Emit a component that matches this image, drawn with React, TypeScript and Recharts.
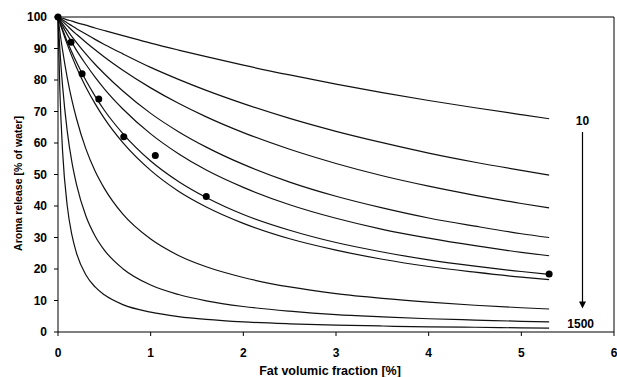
import {
  ComposedChart,
  Line,
  Scatter,
  XAxis,
  YAxis,
  ReferenceLine,
  ReferenceDot,
} from "recharts";

// fat volumic fraction [%] where the curves were read
const fatFraction = [0, 0.02, 0.05, 0.1, 0.15, 0.2, 0.3, 0.4, 0.5, 0.7, 1, 1.3, 1.6, 2, 2.5, 3, 3.5, 4, 4.5, 5, 5.3];

// aroma release [% of water], one array per curve, top (10) to bottom (1500)
const curve10 = [100, 99.8, 99.6, 99.1, 98.7, 98.2, 97.4, 96.5, 95.7, 94.1, 91.7, 89.5, 87.4, 84.7, 81.6, 78.7, 76.0, 73.5, 71.2, 69.0, 67.7];
const curve20 = [100, 99.6, 99.1, 98.1, 97.2, 96.3, 94.6, 92.9, 91.3, 88.3, 84.0, 80.2, 76.7, 72.5, 67.8, 63.7, 60.1, 56.8, 53.9, 51.3, 49.8];
const curve30 = [100, 99.4, 98.6, 97.2, 95.8, 94.5, 92.0, 89.6, 87.3, 83.1, 77.5, 72.6, 68.3, 63.3, 58.0, 53.5, 49.6, 46.3, 43.4, 40.8, 39.4];
const curve45 = [100, 99.1, 97.8, 95.8, 93.8, 91.9, 88.3, 85.0, 82.0, 76.5, 69.4, 63.6, 58.7, 53.2, 47.6, 43.1, 39.4, 36.2, 33.6, 31.2, 30.0];
const curve60 = [100, 98.8, 97.1, 94.4, 91.9, 89.4, 85.0, 80.9, 77.2, 70.8, 62.9, 56.6, 51.4, 45.9, 40.4, 36.1, 32.6, 29.8, 27.4, 25.3, 24.2];
const curve85 = [100, 98.3, 96.0, 92.2, 88.8, 85.6, 79.9, 74.9, 70.4, 63.0, 54.3, 47.8, 42.7, 37.3, 32.3, 28.4, 25.4, 22.9, 20.9, 19.2, 18.3];
const curve96 = [100, 98.1, 95.5, 91.3, 87.5, 84.0, 77.8, 72.5, 67.8, 60.1, 51.3, 44.7, 39.7, 34.5, 29.6, 26.0, 23.1, 20.8, 19.0, 17.4, 16.6];
const curve240 = [100, 95.4, 89.3, 80.7, 73.6, 67.7, 58.2, 51.1, 45.6, 37.4, 29.5, 24.3, 20.7, 17.3, 14.3, 12.2, 10.7, 9.5, 8.5, 7.7, 7.3];
const curve570 = [100, 89.8, 77.9, 63.7, 53.9, 46.8, 36.9, 30.5, 26.0, 20.1, 14.9, 11.9, 9.9, 8.1, 6.6, 5.5, 4.8, 4.2, 3.8, 3.4, 3.2];
const curve1500 = [100, 76.9, 57.1, 40.0, 30.8, 25.0, 18.2, 14.3, 11.8, 8.7, 6.3, 4.9, 4.0, 3.2, 2.6, 2.2, 1.9, 1.6, 1.5, 1.3, 1.2];

// measured points
const measuredX = [0, 0.14, 0.26, 0.44, 0.71, 1.05, 1.6, 5.3];
const measuredY = [100, 92, 82, 74, 62, 56, 43, 18.4];

const xTicks = [0, 1, 2, 3, 4, 5, 6];
const yTicks = [0, 10, 20, 30, 40, 50, 60, 70, 80, 90, 100];

const curves = [curve10, curve20, curve30, curve45, curve60, curve85, curve96, curve240, curve570, curve1500];

const data = fatFraction.map((x, i) => {
  const row: Record<string, number> = { x };
  curves.forEach((c, j) => {
    row["c" + j] = c[i];
  });
  return row;
});

const points = measuredX.map((x, i) => ({ x, y: measuredY[i] }));

const font = "'Liberation Sans', Arial, sans-serif";
const tickStyle = { fontSize: 12, fontWeight: "bold", fill: "#000", fontFamily: font };

function Arrow(props: any) {
  const { x1, y1, x2, y2 } = props;
  return (
    <g>
      <line x1={x1} y1={y1} x2={x2} y2={y2 - 6} stroke="#000" strokeWidth={1.2} />
      <polygon points={`${x2 - 3.5},${y2 - 7} ${x2 + 3.5},${y2 - 7} ${x2},${y2}`} fill="#000" />
    </g>
  );
}

export default function App() {
  return (
    <div style={{ position: "absolute", left: 0, top: 0, background: "#fff", fontFamily: font }}>
      <ComposedChart
        width={617}
        height={377}
        data={data}
        margin={{ top: 17, right: 3, bottom: 0, left: 0 }}
      >
        <XAxis
          type="number"
          dataKey="x"
          domain={[0, 6]}
          ticks={xTicks}
          tick={tickStyle}
          tickSize={4}
          tickMargin={12}
          height={45}
          stroke="#000"
          label={{
            value: "Fat volumic fraction [%]",
            position: "insideBottom",
            offset: 2,
            dx: -6,
            style: { fontSize: 12.5, fontWeight: "bold", fill: "#000", fontFamily: font },
          }}
        />
        <YAxis
          type="number"
          domain={[0, 100]}
          ticks={yTicks}
          tick={tickStyle}
          tickSize={4}
          tickMargin={7}
          width={58}
          stroke="#000"
          label={{
            value: "Aroma release [% of water]",
            angle: -90,
            position: "center",
            dx: -11,
            dy: 9,
            style: { fontSize: 10.5, fontWeight: "bold", fill: "#000", fontFamily: font },
          }}
        />
        <ReferenceLine y={100} stroke="#000" strokeWidth={1} />
        <ReferenceLine x={6} stroke="#000" strokeWidth={1} />
        {curves.map((_, j) => (
          <Line
            key={j}
            dataKey={"c" + j}
            type="monotone"
            stroke="#111"
            strokeWidth={1.2}
            dot={false}
            isAnimationActive={false}
          />
        ))}
        <Scatter
          data={points}
          dataKey="y"
          fill="#000"
          shape={(p: any) => <circle cx={p.cx} cy={p.cy} r={3.5} fill="#000" />}
          isAnimationActive={false}
        />
        <ReferenceLine
          segment={[
            { x: 5.66, y: 63.5 },
            { x: 5.66, y: 7.5 },
          ]}
          shape={Arrow}
        />
        <ReferenceDot
          x={5.66}
          y={67}
          r={0}
          fill="none"
          stroke="none"
          label={{ value: "10", position: "center", style: tickStyle }}
        />
        <ReferenceDot
          x={5.64}
          y={2.5}
          r={0}
          fill="none"
          stroke="none"
          label={{ value: "1500", position: "center", style: tickStyle }}
        />
      </ComposedChart>
    </div>
  );
}
